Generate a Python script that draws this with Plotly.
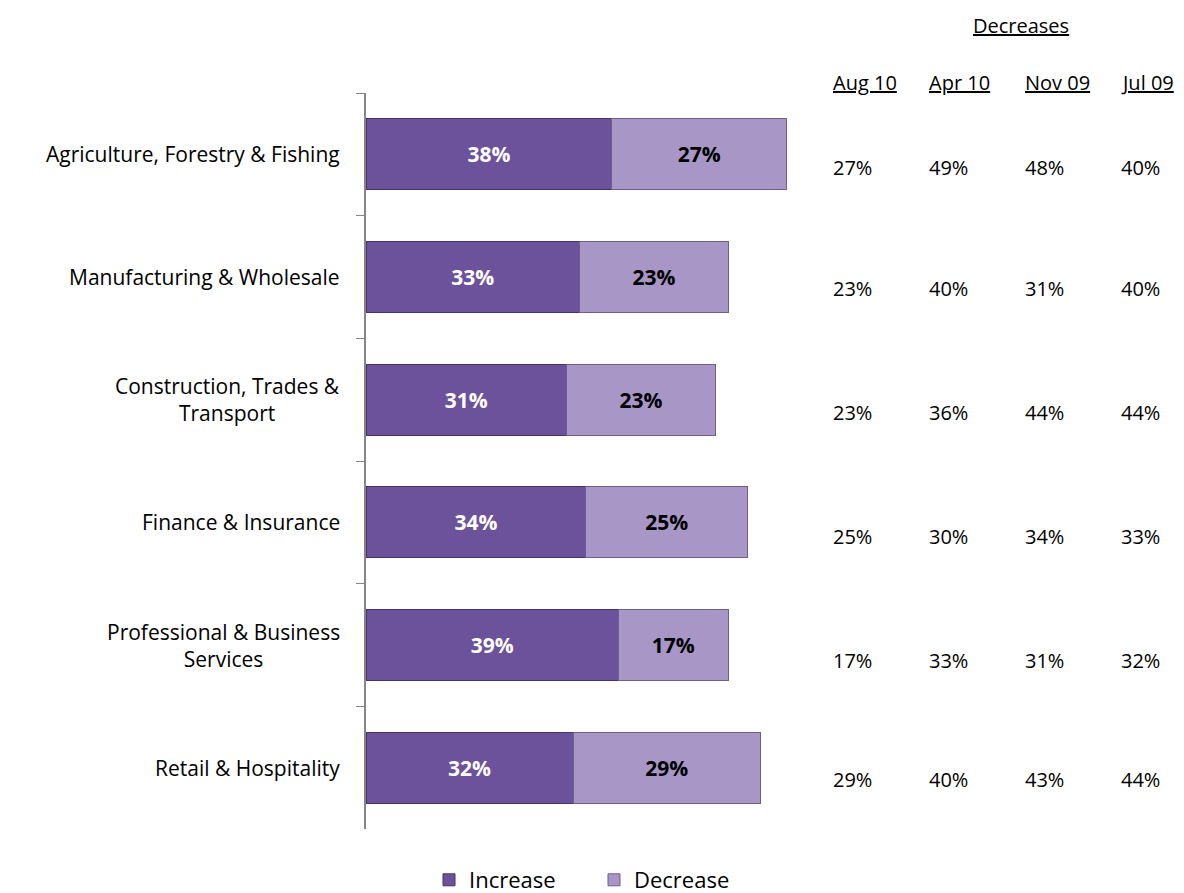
import plotly.graph_objects as go

categories = ["Agriculture, Forestry & Fishing", "Manufacturing & Wholesale",
              "Construction, Trades &<br>Transport", "Finance & Insurance",
              "Professional & Business<br>Services", "Retail & Hospitality"]
increase = [38, 33, 31, 34, 39, 32]
decrease = [27, 23, 23, 25, 17, 29]
periods = ["Aug 10", "Apr 10", "Nov 09", "Jul 09"]
dec_aug10 = [27, 23, 23, 25, 17, 29]
dec_apr10 = [49, 40, 36, 30, 33, 40]
dec_nov09 = [48, 31, 44, 34, 31, 43]
dec_jul09 = [40, 40, 44, 33, 32, 44]
table_cols = [dec_aug10, dec_apr10, dec_nov09, dec_jul09]

W, H = 1184, 893
OFF = 8  # page body margin
FONT = "'Open Sans', sans-serif"

fig = go.Figure()
fig.add_trace(go.Bar(
    y=categories, x=increase, orientation="h", name="Increase",
    marker=dict(color="#6C519B", line=dict(color="#45336A", width=1)),
    texttemplate="<b>%{x}%</b>", textposition="inside", insidetextanchor="middle",
    textfont=dict(color="white", size=21, family=FONT),
))
fig.add_trace(go.Bar(
    y=categories, x=decrease, orientation="h", name="Decrease",
    marker=dict(color="#A896C6", line=dict(color="#6F5F8C", width=1)),
    texttemplate="<b>%{x}%</b>", textposition="inside", insidetextanchor="middle",
    textfont=dict(color="black", size=21, family=FONT),
))

x0_px, y_top, y_bot = 366 - OFF, 93 - OFF, 829 - OFF
px_per_unit = 6.47
x_end_px = x0_px + 100 * px_per_unit

fig.update_layout(
    width=W, height=H, barmode="stack", bargap=0.42,
    paper_bgcolor="white", plot_bgcolor="white",
    margin=dict(l=0, r=0, t=0, b=0),
    font=dict(family=FONT, size=21, color="black"),
    xaxis=dict(domain=[x0_px / W, x_end_px / W], range=[0, 100], visible=False),
    yaxis=dict(domain=[1 - y_bot / H, 1 - y_top / H], autorange="reversed",
               showline=True, linecolor="#868686", linewidth=1.5,
               ticks="outside", tickson="boundaries", ticklen=8, tickcolor="#868686",
               showgrid=False, showticklabels=False),
    showlegend=True,
    legend=dict(orientation="h", traceorder="normal", x=421 / W, y=1 - 872 / H,
                yanchor="middle", xanchor="left",
                font=dict(size=22, family=FONT), itemwidth=30, entrywidth=120),
)

# category labels (centered multi-line)
for c in categories:
    fig.add_annotation(x=(342 - OFF) / W, y=c, xref="paper", yref="y",
                       text=c, showarrow=False, xanchor="right", align="center",
                       yanchor="middle", font=dict(size=21, family=FONT))

# table of decreases
col_x = [831, 927, 1023, 1119]
row_y = [167, 289, 412, 536, 660, 779]
fig.add_annotation(x=(1021 - OFF) / W, y=1 - (25 - OFF) / H, xref="paper", yref="paper",
                   text="<u>Decreases</u>", showarrow=False, xanchor="center",
                   yanchor="middle", font=dict(size=20, family=FONT))
for cx, p, col in zip(col_x, periods, table_cols):
    fig.add_annotation(x=(cx - OFF) / W, y=1 - (83 - OFF) / H, xref="paper", yref="paper",
                       text=f"<u>{p}</u>", showarrow=False, xanchor="left",
                       yanchor="middle", font=dict(size=20, family=FONT))
    for ry, v in zip(row_y, col):
        fig.add_annotation(x=(cx - OFF) / W, y=1 - (ry - OFF) / H, xref="paper", yref="paper",
                           text=f"{v}%", showarrow=False, xanchor="left",
                           yanchor="middle", font=dict(size=20, family=FONT))

fig.write_html("out.html")
